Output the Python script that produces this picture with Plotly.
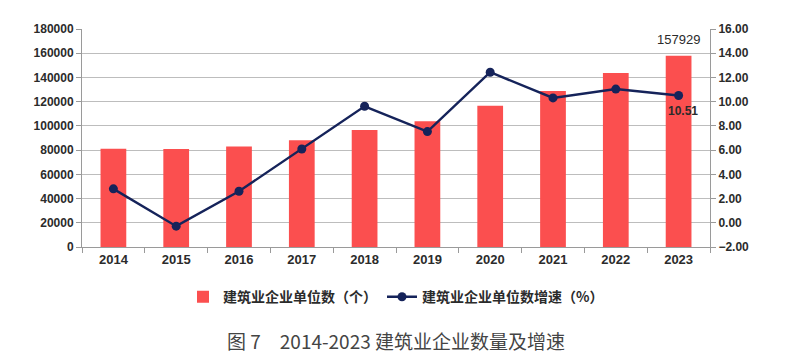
import plotly.graph_objects as go

years = ["2014", "2015", "2016", "2017", "2018", "2019", "2020", "2021", "2022", "2023"]
units = [81141, 80911, 83017, 88074, 96544, 103814, 116716, 128746, 143621, 157929]
growth = [2.80, -0.28, 2.60, 6.09, 9.62, 7.53, 12.43, 10.31, 11.04, 10.51]

bar_name = "建筑业企业单位数（个）"
line_name = "建筑业企业单位数增速（%）"
title_text = "图 7　2014-2023 建筑业企业数量及增速"

FONT = "Liberation Sans, Noto Sans CJK SC, sans-serif"
NARROW = "Liberation Sans Narrow, Liberation Sans, sans-serif"
CJK = "Noto Sans CJK SC, sans-serif"
TXT = "#2b2b2b"
TICKFONT = dict(family=FONT, size=12, color=TXT, weight="bold")
XTICKFONT = dict(family=NARROW, size=13, color=TXT, weight="bold")

idx = list(range(len(years)))
bounds = [i - 0.5 for i in range(len(years) + 1)]

fig = go.Figure()
fig.add_trace(go.Bar(x=idx, y=units, name=bar_name, marker=dict(color="#fb4f4f", line=dict(width=0)),
                     width=0.41, yaxis="y"))
fig.add_trace(go.Scatter(x=idx, y=growth, name=line_name, mode="lines+markers",
                         line=dict(color="#15235a", width=2.4),
                         marker=dict(color="#15235a", size=9), yaxis="y2"))

fig.add_annotation(x=idx[-1], y=units[-1], xref="x", yref="y", text="157929", showarrow=False,
                   yanchor="bottom", yshift=7, font=dict(family=FONT, size=13, color=TXT))
fig.add_annotation(x=idx[-1], y=growth[-1], xref="x", yref="y2", text="10.51", showarrow=False,
                   yanchor="top", yshift=-7, xshift=4, font=dict(family=FONT, size=12, color=TXT, weight="bold"))
fig.add_annotation(x=0.5, y=-0.43, xref="paper", yref="paper", text=title_text, showarrow=False,
                   yanchor="middle", font=dict(family=CJK, size=19, color="#444444"))

fig.update_layout(
    width=790, height=363,
    margin=dict(l=74, r=88, t=21, b=124),
    paper_bgcolor="white", plot_bgcolor="white",
    showlegend=True,
    legend=dict(orientation="h", x=0.5, xanchor="center", y=-0.23, yanchor="middle",
                font=dict(family=CJK, size=14, color=TXT, weight="bold"), itemwidth=30, tracegroupgap=0),
    xaxis=dict(range=[-0.5, len(years) - 0.5], tickmode="array", tickvals=idx, ticktext=years,
               showline=True, linecolor="#9a9a9a", linewidth=1, ticks="",
               tickfont=XTICKFONT, showgrid=False, zeroline=False),
    xaxis2=dict(range=[-0.5, len(years) - 0.5], overlaying="x", side="bottom", tickmode="array",
                tickvals=bounds, showticklabels=False, ticks="outside", ticklen=5, tickcolor="#9a9a9a",
                showgrid=False, zeroline=False, showline=False),
    yaxis=dict(range=[0, 180000], dtick=20000, showgrid=True, gridcolor="#bdbdbd", gridwidth=1,
               showline=True, linecolor="#9a9a9a", ticks="outside", ticklen=5, tickcolor="#9a9a9a",
               tickfont=TICKFONT, zeroline=False, tickformat="d"),
    yaxis2=dict(range=[-2, 16], dtick=2, overlaying="y", side="right", showgrid=False,
                showline=True, linecolor="#9a9a9a", ticks="outside", ticklen=5, tickcolor="#9a9a9a",
                tickformat=".2f", zeroline=False, tickfont=TICKFONT),
)
# invisible trace to activate xaxis2 tick marks
fig.add_trace(go.Scatter(x=[bounds[0], bounds[-1]], y=[None, None], xaxis="x2", yaxis="y",
                         showlegend=False, hoverinfo="skip", mode="markers"))

fig.write_html("out.html")
